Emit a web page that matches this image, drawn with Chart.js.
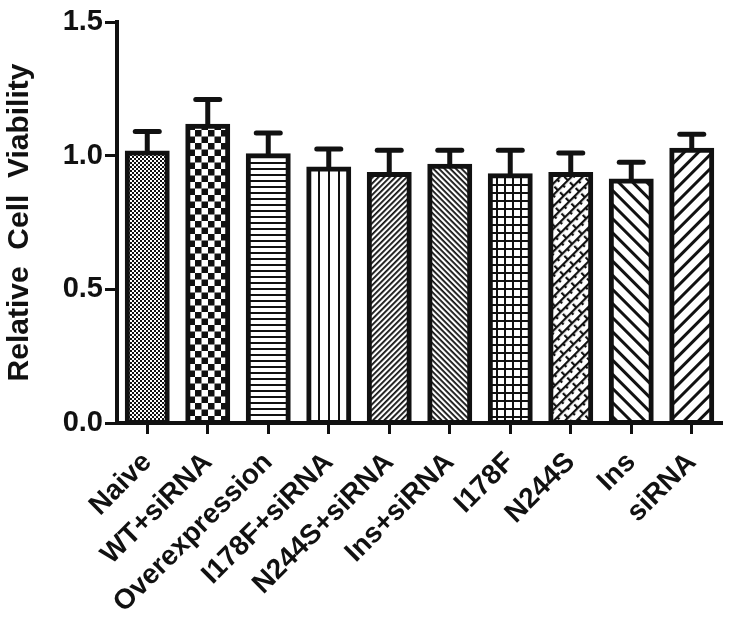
<!DOCTYPE html>
<html>
<head>
<meta charset="utf-8">
<script src="https://cdn.jsdelivr.net/npm/chart.js@4"></script>
<style>
  body { margin: 0; background: #fff; }
  canvas { display: block; }
</style>
</head>
<body>
<canvas id="chart" width="731" height="631"></canvas>
<script>
const categories = ["Naive", "WT+siRNA", "Overexpression", "I178F+siRNA", "N244S+siRNA",
    "Ins+siRNA", "I178F", "N244S", "Ins", "siRNA"];
const viability = [1.01, 1.11, 1.00, 0.95, 0.93, 0.96, 0.925, 0.93, 0.905, 1.02];
const errors = [0.08, 0.10, 0.085, 0.075, 0.09, 0.06, 0.095, 0.08, 0.07, 0.06];
const yTicks = [0, 0.5, 1.0, 1.5];

const FONT = "'Liberation Sans', Arial, sans-serif";

// small helper to make an opaque pattern tile
function makeTile(w, h, draw) {
    const c = document.createElement("canvas");
    c.width = w;
    c.height = h;
    const t = c.getContext("2d");
    t.fillStyle = "#fff";
    t.fillRect(0, 0, w, h);
    t.fillStyle = "#111";
    t.strokeStyle = "#111";
    draw(t);
    return c;
}

function pattern(tile, angle) {
    const ctx = document.createElement("canvas").getContext("2d");
    const p = ctx.createPattern(tile, "repeat");
    if (angle) {
        p.setTransform(new DOMMatrix().rotate(angle));
    }
    return p;
}

function stripes(period, width, angle) {
    const tile = makeTile(4, period, (t) => t.fillRect(0, 0, 4, width));
    return pattern(tile, angle);
}

const fills = [
    // fine check
    pattern(makeTile(4, 4, (t) => { t.fillRect(0, 0, 2, 2); t.fillRect(2, 2, 2, 2); })),
    // big check
    pattern(makeTile(13, 13, (t) => { t.fillRect(0, 0, 6.5, 6.5); t.fillRect(6.5, 6.5, 6.5, 6.5); })),
    // horizontal
    stripes(6.5, 2, 0),
    // vertical
    stripes(10, 2, 90),
    // dense "/"
    stripes(4.3, 1.8, -45),
    // dense "\"
    stripes(4.3, 1.8, 45),
    // grid
    pattern(makeTile(8, 8, (t) => { t.fillRect(0, 0, 8, 2); t.fillRect(0, 0, 2, 8); })),
    // rotated bricks
    pattern(makeTile(14, 8, (t) => {
        t.fillRect(0, 0, 14, 2.2);
        t.fillRect(0, 0, 2.2, 4);
        t.fillRect(7, 4, 2.2, 4);
    }), -45),
    // wide "\"
    stripes(10.5, 3, 45),
    // wide "/"
    stripes(10.5, 3, -45),
];

const errorBars = {
    id: "errorBars",
    afterDatasetsDraw(chart) {
        const ctx = chart.ctx;
        const meta = chart.getDatasetMeta(0);
        const y = chart.scales.y;
        ctx.save();
        ctx.strokeStyle = "#111";
        meta.data.forEach((bar, i) => {
            const top = y.getPixelForValue(viability[i]);
            const end = y.getPixelForValue(viability[i] + errors[i]);
            ctx.lineWidth = 5;
            ctx.lineCap = "butt";
            ctx.beginPath();
            ctx.moveTo(bar.x, top);
            ctx.lineTo(bar.x, end);
            ctx.stroke();
            ctx.lineCap = "round";
            ctx.beginPath();
            ctx.moveTo(bar.x - 12, end);
            ctx.lineTo(bar.x + 12, end);
            ctx.stroke();
        });
        ctx.restore();
    },
};

new Chart(document.getElementById("chart"), {
    type: "bar",
    data: {
        labels: categories,
        datasets: [
            {
                data: viability,
                backgroundColor: fills,
                borderColor: "#111",
                borderWidth: 5,
                borderSkipped: false,
                inflateAmount: 2.5,
                barPercentage: 0.66,
                categoryPercentage: 1,
            },
        ],
    },
    options: {
        responsive: false,
        animation: false,
        layout: { padding: { top: 22, right: 9, left: 0, bottom: 0 } },
        plugins: {
            legend: { display: false },
            tooltip: { enabled: false },
        },
        scales: {
            x: {
                afterFit: (scale) => { scale.height = 208; },
                grid: {
                    offset: false,
                    drawOnChartArea: false,
                    drawTicks: true,
                    tickLength: 11,
                    tickWidth: 3,
                    tickColor: "#111",
                },
                border: { display: true, color: "#111", width: 4 },
                ticks: {
                    autoSkip: false,
                    minRotation: 45,
                    maxRotation: 45,
                    padding: 12,
                    color: "#111",
                    font: { family: FONT, size: 28, weight: "bold" },
                },
            },
            y: {
                min: 0,
                max: 1.5,
                afterFit: (scale) => { scale.width = 117; },
                afterBuildTicks: (scale) => { scale.ticks = yTicks.map((v) => ({ value: v })); },
                grid: {
                    drawOnChartArea: false,
                    drawTicks: true,
                    tickLength: 12,
                    tickWidth: 3,
                    tickColor: "#111",
                },
                border: { display: true, color: "#111", width: 4 },
                ticks: {
                    padding: 2,
                    color: "#111",
                    font: { family: FONT, size: 29, weight: "bold" },
                    callback: (v) => v.toFixed(1),
                },
                title: {
                    display: true,
                    text: "Relative  Cell  Viability",
                    color: "#111",
                    padding: { top: 2, bottom: 2 },
                    font: { family: FONT, size: 30, weight: "bold" },
                },
            },
        },
    },
    plugins: [errorBars],
});
</script>
</body>
</html>
